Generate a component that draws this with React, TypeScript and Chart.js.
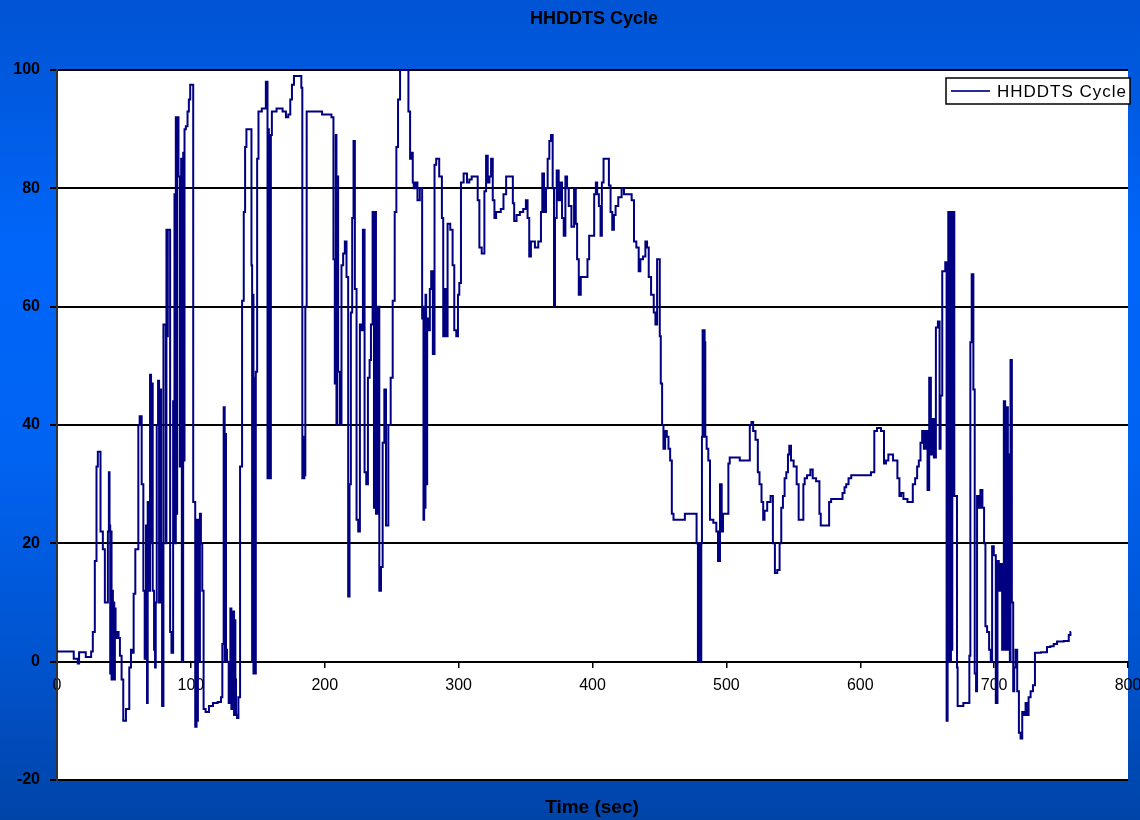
import React, { useEffect, useRef } from 'react';
import { Chart, registerables } from 'chart.js';

Chart.register(...registerables);

const chartTitle = 'HHDDTS Cycle';
const xAxisTitle = 'Time (sec)';
const seriesLabel = 'HHDDTS Cycle';

const xMin = 0;
const xMax = 800;
const xStep = 100;
const yMin = -20;
const yMax = 100;
const yStep = 20;

// time (s) and speed (mph); each line of timeSec pairs with the same line of speedMph
const timeSec = [
  0, 12, 13, 15, 16, 17, 21, 22, 25, 26,
  27.5, 29, 30, 31, 32, 33, 34, 34.5, 35.5, 36,
  37.5, 38.5, 39, 39.5, 40, 40.5, 41, 41.5, 42, 42.5,
  43, 43.5, 44, 45.5, 46.5, 47.5, 49, 50, 51, 52,
  53.5, 54.5, 56, 57, 57.5, 59.5, 60.5, 61, 62.5, 64,
  65, 66, 67, 67.5, 68, 69, 70, 70.5, 71, 72,
  73, 73.5, 74, 75, 76, 76.5, 77.5, 78, 79, 80,
  81, 81.5, 82, 82.5, 83, 84, 85, 86, 87.5, 88,
  88.5, 89, 89.5, 90, 90.5, 91, 92.5, 93, 93.5, 94,
  94.5, 95, 95.5, 97, 98, 99, 100, 101, 102.5, 104,
  104.5, 105, 105.5, 106, 106.5, 107, 108, 109, 110, 112,
  115, 118, 122, 123, 124, 125, 125.5, 126, 126.5, 127.5,
  129, 130, 130.5, 131, 131.5, 132, 132.5, 133, 133.5, 134,
  135, 136, 137.5, 139, 140, 141, 142, 145, 145.5, 146,
  146.5, 147, 147.5, 148, 149, 150, 151, 155, 157, 157.5,
  158, 158.5, 159, 159.5, 160, 161, 167, 170, 172, 173.5,
  175, 176, 178, 182, 183, 183.5, 184, 184.5, 185, 186,
  187, 192, 204, 206, 207, 208, 208.5, 209, 209.5, 210.5,
  212, 213, 214.5, 215.5, 217, 218, 219, 220, 221, 222,
  223, 224.5, 225.5, 227, 228, 229, 230.5, 231.5, 233, 234,
  235, 236.5, 237, 237.5, 239, 240, 241.5, 242.5, 244, 245,
  246.5, 248.5, 250, 251.5, 253, 254, 255.5, 257, 262, 263,
  264.5, 265.5, 266, 267, 268.5, 270, 272, 273.5, 274, 274.5,
  275, 275.5, 276, 277, 278, 279, 280, 281.5, 282.5, 284,
  287, 288, 289, 290, 291, 292.5, 295, 296, 297.5, 299,
  300, 301, 302.5, 305, 307.5, 308.5, 311, 313.5, 315, 316,
  318.5, 320, 321, 322.5, 323.5, 325, 326, 327.5, 328.5, 331,
  332, 335, 336, 340, 341, 342, 344.5, 347, 349.5, 351,
  352, 353.5, 354.5, 356, 358, 361, 362, 363, 364.5, 366,
  367, 368.5, 369.5, 371, 371.5, 372.5, 374, 375.5, 376.5, 378,
  379, 380.5, 381.5, 383, 385.5, 387, 388, 389, 390.5, 392,
  395.5, 397, 398, 400.5, 402, 403, 404, 405.5, 406.5, 407.5,
  409, 411.5, 413, 414, 415.5, 416.5, 418, 420.5, 423, 424,
  428, 430.5, 431.5, 434, 435, 436.5, 439, 440, 441.5, 442.5,
  445, 446.5, 447.5, 449, 450, 450.5, 451.5, 452.5, 453.5, 455,
  456, 457.5, 458.5, 460, 461, 477, 478.5, 479, 479.5, 480,
  480.5, 481, 481.5, 482, 482.5, 483, 483.5, 484, 484.5, 486,
  487, 488.5, 492, 493, 494.5, 496, 497, 498, 501, 502,
  503, 517, 518, 519.5, 520.5, 523, 524, 525.5, 527, 528,
  529, 532, 534, 535.5, 537, 539, 540.5, 541.5, 543, 544,
  545.5, 546.5, 547.5, 549, 551.5, 553.5, 554.5, 557, 558, 559,
  561.5, 564, 565, 569, 570, 571, 576, 577.5, 579, 586,
  587.5, 589, 590, 592.5, 594, 606, 610, 611, 614, 617,
  618.5, 620, 622, 627, 628.5, 630, 631, 633.5, 637, 638.5,
  640, 642, 643, 644.5, 645.5, 647, 648, 649.5, 651, 652,
  653.5, 654, 656, 657, 659, 659.5, 660.5, 662, 663, 664,
  665, 665.5, 666, 666.5, 667, 667.5, 668, 668.5, 669, 669.5,
  670, 670.5, 672, 672.5, 673, 681, 682, 682.5, 684, 685,
  686, 687, 687.5, 689, 690.5, 692, 693, 694, 695.5, 697,
  698, 699, 700.5, 702, 703, 704, 705.5, 706.5, 708, 708.5,
  709, 709.5, 710, 710.5, 711.5, 712, 712.5, 714, 714.5, 715.5,
  716.5, 718, 719, 720.5, 721.5, 723, 724, 725, 726.5, 728,
  730, 731, 739, 740, 744, 745, 749, 755, 756.5, 757.5
];

const speedMph = [
  1.7, 1.7, 0.5, 0.5, -0.3, 1.6, 1.6, 0.8, 0.8, 1.7,
  5, 17, 33, 35.5, 35.5, 22, 22, 19, 19, 10,
  10, 22, 32, 23, -2, 22, -3, 12, -2, 10,
  -3, 9, 4, 5, 4, 1, -3, -10, -10, -8,
  -8, -1, 2, 1.5, 11.5, 19, 19, 40, 41.5, 30,
  12, 0.5, 23, -7, 27, 12, 48.5, 20, 47, 12,
  2, -1, 10, 40, 47.5, 10, 46, 20, -7.5, 57,
  57, 20, 73, 55, 73, 73, 5, 1.5, 44, 79,
  20, 92, 25, 92, 92, 82, 33, 85, 0, 0,
  86, 34, 90, 90.5, 93, 95, 97.5, 97.5, 27, -11,
  24, -10, 21, 24, 0, 25, 20, 12, -8, -8.5,
  -7.5, -7, -6.8, -6, 3, 43, 0, 38.5, 2, 0,
  -7, 9, -8, 8, -5, 8.5, -9, 7, -3, -9,
  -9.5, -6, 33, 61, 76, 87, 90, 90, 67, 0,
  62, -2, 48, -2, 49, 85, 93, 93.5, 98, 31,
  90, 31, 66, 31, 89, 93, 93.5, 93, 92, 92.5,
  95, 97.5, 99, 99, 97, 31, 38, 31, 31.5, 60,
  93, 93, 92.5, 92, 68, 47, 89, 40, 82, 49,
  40, 67, 69, 71, 65, 11, 30, 59, 75, 88,
  63, 24, 22, 57, 56, 73, 32, 30, 48, 51,
  57, 76, 26, 76, 25, 60, 12, 16, 37, 46,
  23, 40, 48, 61, 76, 87, 95, 100, 100, 93,
  85, 86, 81, 80, 81, 78, 80, 58, 24, 60,
  26, 62, 30, 58, 56, 63, 66, 52, 84, 85,
  82, 75, 55, 63, 55, 74, 73, 67, 56, 55,
  62, 64, 81, 82.5, 81, 81.5, 82, 82, 78, 70,
  69, 79.5, 85.5, 81, 82, 85, 78, 75, 76, 76,
  76.5, 79, 82, 82, 77.5, 74.5, 75.5, 76, 76.5, 78,
  75, 68.5, 71, 71, 70, 71, 76, 82.5, 76, 80,
  85, 88, 89, 80, 60, 75, 83, 78, 81, 75,
  72, 82, 80, 77, 73.5, 80, 74, 68, 62, 65,
  65, 68, 72, 72, 79, 81, 79, 77, 72, 81,
  85, 85, 80.5, 76, 73, 75.5, 77, 78.5, 80, 79,
  79, 78, 71, 70, 66, 68, 68.5, 71, 70, 65,
  62, 59, 57, 68, 68, 55, 47, 40, 36, 39,
  38, 36, 34, 25, 24, 25, 20, 0, 20, 0,
  20, 0, 20, 38, 56, 38, 56, 54, 38, 36,
  34, 24, 23.5, 22, 17, 30, 22, 25, 25, 33.5,
  34.5, 34, 40, 40.5, 39, 37.5, 32, 30, 27, 24,
  25.5, 27, 28, 20, 15, 15.5, 20, 26, 28, 31,
  32, 35, 36.5, 34, 33, 30, 24, 24, 30, 31,
  31.5, 32.5, 31, 30.5, 25, 23, 23, 27, 27.5, 27.5,
  28.5, 29.5, 30, 31, 31.5, 31.5, 32, 39, 39.5, 39,
  33.5, 34, 35, 34, 31, 28, 28.5, 27.5, 27, 27,
  30, 31, 33, 34, 37, 39, 36, 39, 29, 48,
  35, 41, 34.5, 56.5, 57.5, 36, 45, 66, 66, 67.5,
  -10, 0, 76, 0, 76, 0, 76, 2, 76, 30,
  76, 28, 28, -1, -7.5, -7, 1, 54, 65.5, 46,
  -2, -5, 28, 26, 29, 26, 20, 6, 5, 2,
  0, 19.5, 18, -7, 17, 12, 16.5, 2, 44, 2,
  43, 2, 43, 2, 35, 0, 51, 10, -5, -1,
  2, -5, -12, -13, -8.5, -9, -7, -9, -6, -5,
  -4, 1.5, 1.6, 2.5, 2.6, 3, 3.4, 3.5, 4.5, 5
];

const FONT = '"Liberation Sans", Arial, sans-serif';

const decorPlugin = {
  id: 'decor',
  beforeDraw(chart: any) {
    const { ctx, width, height, chartArea: a } = chart;
    ctx.save();
    const g = ctx.createLinearGradient(0, 0, 0, height);
    g.addColorStop(0, '#0054d4');
    g.addColorStop(0.1, '#0059de');
    g.addColorStop(0.3, '#0066fa');
    g.addColorStop(0.55, '#0063f2');
    g.addColorStop(0.8, '#0054cf');
    g.addColorStop(1, '#0044a8');
    ctx.fillStyle = g;
    ctx.fillRect(0, 0, width, height);
    ctx.fillStyle = '#ffffff';
    ctx.fillRect(a.left, a.top, a.right - a.left, a.bottom - a.top);
    ctx.restore();
  },
  afterDraw(chart: any) {
    const { ctx } = chart;
    ctx.save();
    ctx.fillStyle = '#000';
    ctx.textAlign = 'center';
    ctx.textBaseline = 'middle';
    ctx.font = `bold 18px ${FONT}`;
    ctx.fillText(chartTitle, 594, 19);
    ctx.font = `bold 19px ${FONT}`;
    ctx.fillText(xAxisTitle, 592, 808);
    // Legend
    const lx = 946, ly = 78, lw = 184, lh = 26;
    ctx.fillStyle = '#fff';
    ctx.fillRect(lx, ly, lw, lh);
    ctx.strokeStyle = '#000';
    ctx.lineWidth = 1.5;
    ctx.strokeRect(lx, ly, lw, lh);
    ctx.strokeStyle = '#2a2a9a';
    ctx.lineWidth = 2;
    ctx.beginPath();
    ctx.moveTo(951, 91);
    ctx.lineTo(990, 91);
    ctx.stroke();
    ctx.fillStyle = '#000';
    ctx.textAlign = 'left';
    ctx.font = `17px ${FONT}`;
    try { (ctx as any).letterSpacing = '1px'; } catch (e) {}
    ctx.fillText(seriesLabel, 997, 92);
    ctx.restore();
  }
};

export default function App() {
  const canvasRef = useRef<HTMLCanvasElement | null>(null);

  useEffect(() => {
    const canvas = canvasRef.current;
    if (!canvas) return;
    const points = timeSec.map((t, i) => ({ x: t, y: speedMph[i] }));
    const chart = new Chart(canvas, {
      type: 'line',
      data: {
        datasets: [
          {
            label: seriesLabel,
            data: points,
            borderColor: '#000080',
            borderWidth: 2,
            pointRadius: 0,
            tension: 0,
            stepped: 'middle',
            fill: false,
          },
        ],
      },
      options: {
        animation: false,
        responsive: false,
        maintainAspectRatio: false,
        parsing: false as any,
        normalized: true,
        layout: { padding: { left: 0, top: 70, right: 12, bottom: 40 } },
        plugins: {
          legend: { display: false },
          title: { display: false },
          tooltip: { enabled: false },
        },
        scales: {
          x: {
            type: 'linear',
            min: xMin,
            max: xMax,
            position: { y: 0 } as any,
            ticks: {
              stepSize: xStep,
              color: '#000',
              font: { family: FONT, size: 16 },
              padding: 9,
              maxRotation: 0,
            },
            grid: {
              display: true,
              drawOnChartArea: false,
              drawTicks: true,
              tickLength: 5,
              color: '#000',
              lineWidth: 1.5,
            },
            border: { display: true, color: '#000', width: 2 },
            afterFit: (scale: any) => {
              scale.paddingLeft = 0;
              scale.paddingRight = 0;
            },
          },
          y: {
            type: 'linear',
            min: yMin,
            max: yMax,
            ticks: {
              stepSize: yStep,
              color: '#000',
              font: { family: FONT, size: 16, weight: 'bold' },
              padding: 10,
            },
            grid: {
              color: '#000',
              lineWidth: 2,
              tickLength: 7,
            },
            border: { display: true, color: '#333', width: 2 },
            afterFit: (scale: any) => {
              scale.width = 57;
            },
          },
        },
      },
      plugins: [decorPlugin],
    });
    return () => chart.destroy();
  }, []);

  return (
    <div style={{ position: 'fixed', left: 0, top: 0, width: 1140, height: 820 }}>
      <canvas ref={canvasRef} width={1140} height={820} style={{ display: 'block', width: 1140, height: 820 }} />
    </div>
  );
}
